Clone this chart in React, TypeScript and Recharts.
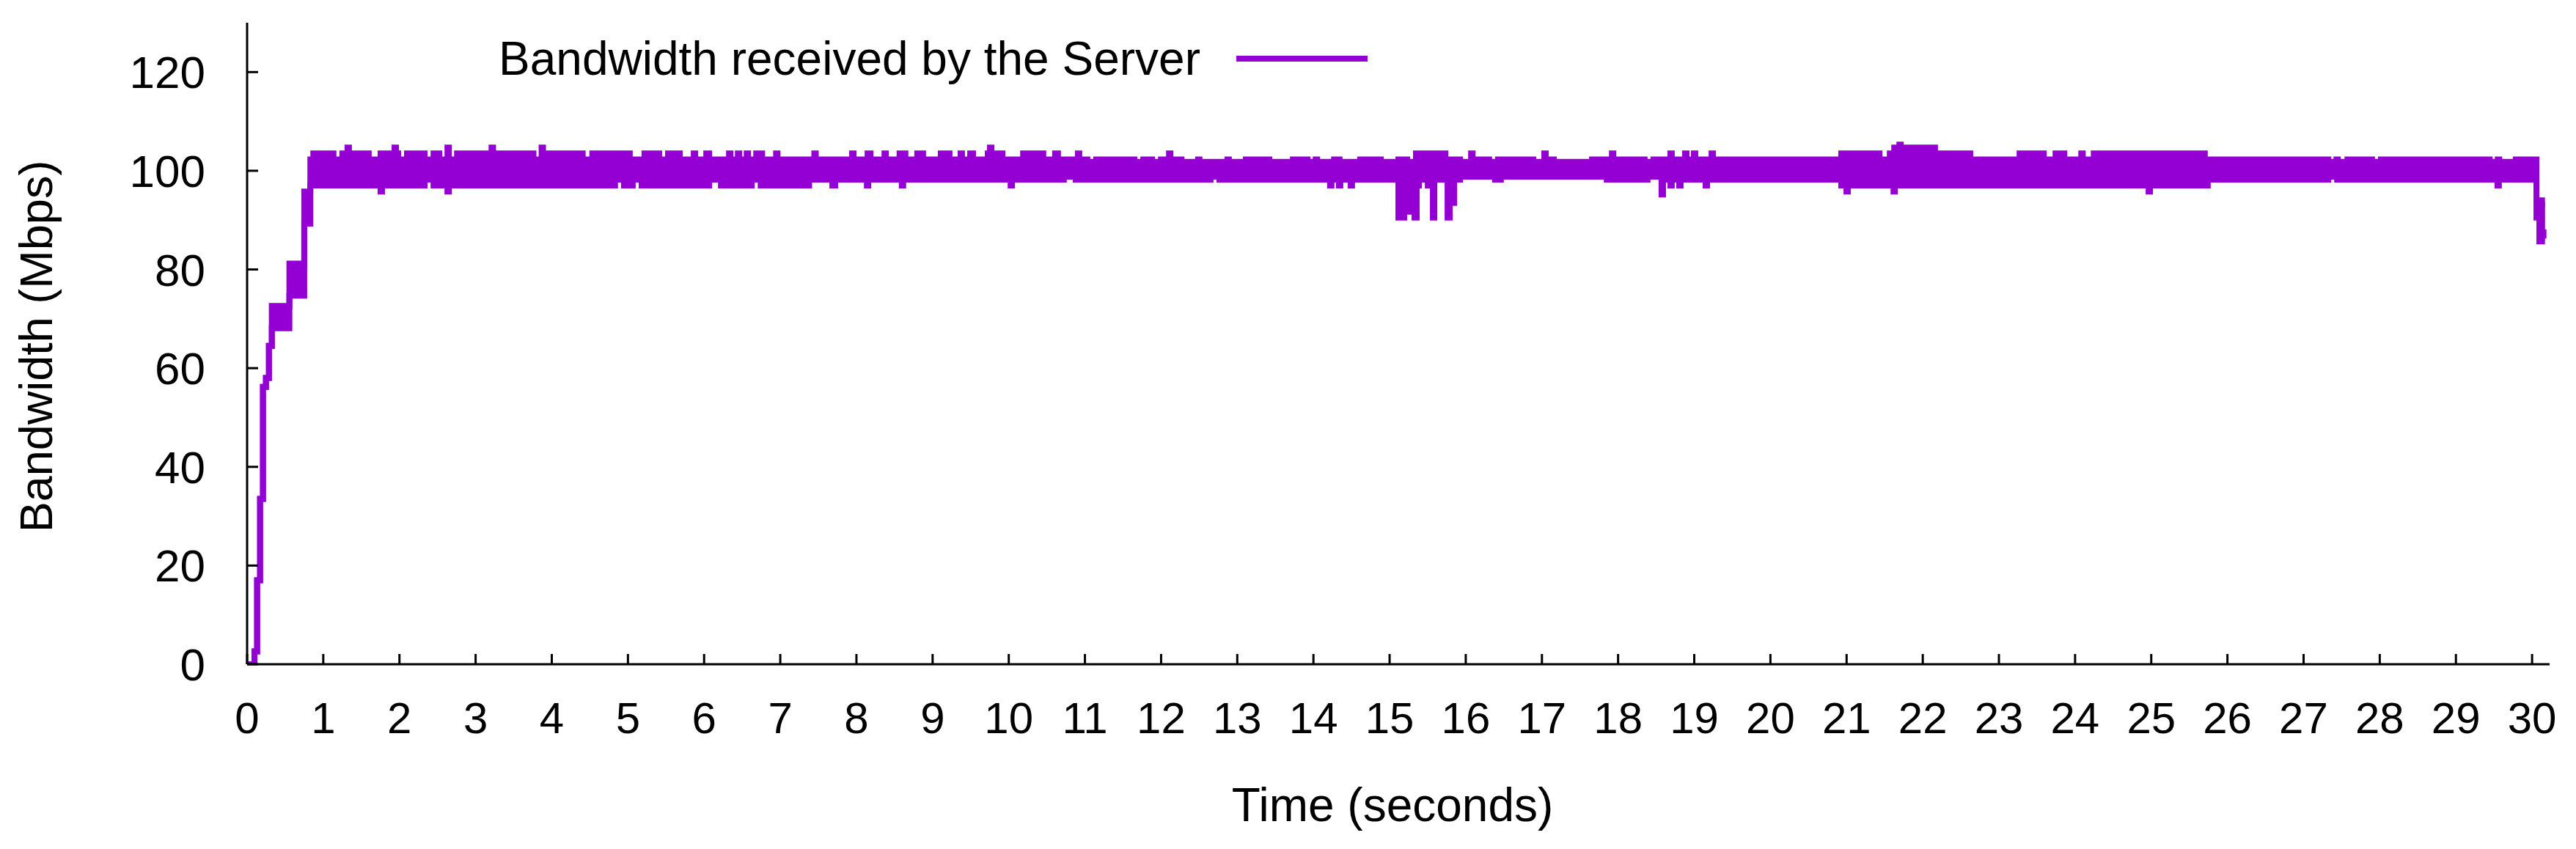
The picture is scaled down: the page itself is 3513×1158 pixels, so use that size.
import { AreaChart, Area, XAxis, YAxis, Legend } from "recharts";

const PURPLE = "#9400d3";
const FONT = "'Liberation Sans', Arial, sans-serif";

const xTicks = [
  0, 1, 2, 3, 4, 5, 6, 7, 8, 9, 10, 11, 12, 13, 14, 15, 16, 17, 18, 19, 20, 21, 22, 23, 24, 25, 26, 27, 28,
  29, 30,
];
const yTicks = [0, 20, 40, 60, 80, 100, 120];

// start-up ramp: [time, low, high]
const ramp: [number, number, number][] = [
  [0, 0, 0], [0.096, 2.6, 2.6], [0.131, 17, 17], [0.17, 33.5, 33.5], [0.208, 56.2, 56.2],
  [0.247, 58, 58], [0.286, 64.5, 64.5], [0.324, 68.1, 72.6], [0.555, 74.7, 81.2], [0.75, 89.3, 95.8],
];

// upper edge of the ~100 Mbps band: [time, Mbps], step changes
const upperEdge: [number, number][] = [
  [0.83, 102.3], [0.869, 103.5], [1.134, 102.3], [1.25, 103.5], [1.318, 104.7], [1.337, 103.5],
  [1.597, 102.3], [1.752, 103.5], [1.935, 104.7], [1.955, 103.5], [1.984, 102.3], [2.099, 103.5],
  [2.331, 102.3], [2.447, 103.5], [2.524, 102.3], [2.63, 104.7], [2.65, 102.3], [2.756, 103.5],
  [3.209, 104.7], [3.229, 103.5], [3.76, 102.3], [3.866, 104.7], [3.885, 103.5], [4.406, 102.3],
  [4.532, 103.5], [5.024, 102.3], [5.217, 103.5], [5.41, 102.3], [5.526, 103.5], [5.681, 102.3],
  [5.864, 103.5], [5.883, 102.3], [6.028, 103.5], [6.067, 102.3], [6.327, 103.5], [6.347, 102.3],
  [6.443, 103.5], [6.462, 102.3], [6.559, 103.5], [6.578, 102.3], [6.684, 103.5], [6.762, 102.3],
  [6.945, 103.5], [6.964, 102.3], [7.447, 103.5], [7.466, 102.3],
  [7.943, 103.5], [7.963, 102.3], [8.146, 103.5], [8.185, 102.3], [8.368, 103.5], [8.387, 102.3],
  [8.566, 103.5], [8.643, 102.3], [8.798, 103.5], [8.875, 102.3], [9.107, 103.5], [9.222, 102.3],
  [9.367, 103.5], [9.386, 102.3], [9.493, 103.5], [9.531, 102.3], [9.724, 103.5], [9.753, 104.7],
  [9.773, 103.5], [9.917, 102.3], [10.188, 103.5], [10.453, 102.3], [10.608, 103.5], [10.646, 102.3],
  [10.907, 103.5], [10.926, 102.3], [11.032, 101.8], [11.148, 102.3], [11.65, 101.8], [11.766, 102.3],
  [11.882, 101.8], [11.998, 102.3], [12.104, 103.5], [12.123, 102.3], [12.268, 101.8], [12.485, 102.3],
  [12.504, 101.8], [12.871, 102.3], [12.89, 101.8], [13.112, 102.3], [13.421, 101.8], [13.73, 102.3],
  [13.923, 101.8], [14.029, 102.3], [14.049, 101.8], [14.271, 102.3], [14.343, 101.8], [14.613, 102.3],
  [14.884, 101.8], [15.115, 102.3],
  [15.231, 101.8], [15.346, 103.5], [15.733, 102.3], [15.926, 101.8], [16.07, 103.5], [16.09, 102.3],
  [16.307, 101.8], [16.423, 102.3], [16.886, 101.8], [17.031, 103.5], [17.05, 102.3], [17.156, 101.8],
  [17.658, 102.3], [17.919, 103.5], [17.938, 102.3], [18.348, 101.8], [18.464, 102.3], [18.686, 103.5],
  [18.705, 102.3], [18.879, 103.5], [18.899, 102.3], [18.995, 103.5], [19.014, 102.3], [19.227, 103.5],
  [19.246, 102.3], [20.93, 103.5], [21.432, 102.3], [21.567, 103.5], [21.625, 104.7], [21.693, 105.3],
  [21.712, 104.7], [22.161, 103.5], [22.624, 102.3],
  [23.271, 103.5], [23.589, 102.3], [23.743, 103.5], [23.859, 102.3], [24.081, 103.5], [24.101, 102.3],
  [24.245, 103.5], [25.703, 102.3], [27.325, 101.8], [27.431, 102.3], [27.45, 101.8], [27.576, 102.3],
  [27.899, 101.8], [28.015, 102.3], [29.443, 101.8], [29.549, 102.3], [29.569, 101.8], [29.786, 102.3],
];

// lower edge of the band: [time, Mbps]
const lowerEdge: [number, number][] = [
  [0.83, 97.0], [1.752, 95.8], [1.771, 97.0], [2.331, 98.2], [2.447, 97.0], [2.63, 95.8], [2.65, 97.0],
  [4.831, 98.2], [4.947, 97.0], [5.063, 98.2], [5.179, 97.0], [6.067, 98.2], [6.221, 97.0], [6.626, 98.2],
  [6.742, 97.0], [6.781, 98.2], [6.858, 97.0], [7.109, 98.2], [7.186, 97.0], [7.283, 98.2], [7.341, 97.0],
  [7.379, 98.2], [7.683, 97.0], [7.721, 98.2], [8.137, 97.0], [8.156, 98.2], [8.595, 97.0], [8.614, 98.2],
  [10.024, 97.0], [10.043, 98.2], [10.723, 98.8], [10.878, 98.2], [12.649, 98.8], [12.765, 98.2],
  [14.218, 97.0], [14.237, 98.2], [14.333, 97.0], [14.353, 98.2], [14.488, 97.0], [14.507, 98.2],
  [15.115, 90.5], [15.192, 91.7], [15.327, 90.5], [15.356, 97.0], [15.385, 98.2], [15.501, 97.0],
  [15.568, 90.5], [15.588, 98.2], [15.761, 90.5], [15.79, 93.5], [15.848, 98.2], [15.926, 98.8],
  [16.384, 98.2], [16.461, 98.8], [17.851, 98.2], [18.387, 98.8], [18.57, 95.2], [18.59, 98.2],
  [18.686, 97.0], [18.705, 98.2], [18.802, 97.0], [18.821, 98.2], [19.149, 97.0], [19.169, 98.2],
  [20.93, 97.0], [20.998, 95.8], [21.017, 97.0], [21.616, 95.8], [21.635, 97.0], [24.965, 95.8],
  [24.984, 97.0], [25.742, 98.2], [27.325, 98.8], [27.44, 98.2], [29.545, 97.0], [29.564, 98.2],
];

// final drop at the end of the run: [time, low, high]
const tail: [number, number, number][] = [
  [30.057, 90.5, 94.0], [30.095, 85.7, 94.0], [30.13, 87.5, 93.4], [30.15, 86.3, 93.4], [30.17, 86.3, 93.4],
];

// merge the two step edges into one [low, high] row per breakpoint
function buildRows() {
  const upper: [number, number][] = [
    ...ramp.map(([t, , hi]) => [t, hi] as [number, number]),
    ...upperEdge,
    ...tail.map(([t, , hi]) => [t, hi] as [number, number]),
  ];
  const lower: [number, number][] = [
    ...ramp.map(([t, lo]) => [t, lo] as [number, number]),
    ...lowerEdge,
    ...tail.map(([t, lo]) => [t, lo] as [number, number]),
  ];
  const times = Array.from(new Set([...upper, ...lower].map((p) => p[0]))).sort((a, b) => a - b);
  let iu = 0;
  let il = 0;
  return times.map((t) => {
    while (iu + 1 < upper.length && upper[iu + 1][0] <= t) iu++;
    while (il + 1 < lower.length && lower[il + 1][0] <= t) il++;
    return { t, bw: [lower[il][1], upper[iu][1]] };
  });
}

const rows = buildRows();

const axisStroke = { stroke: "#000", strokeWidth: 3 };

function XLabel(props: any) {
  const vb = props.viewBox || {};
  const x = (vb.x ?? 337) + (vb.width ?? 3140) / 2 - 8;
  const y = (vb.y ?? 906) + 214;
  return (
    <text x={x} y={y} textAnchor="middle" fontSize={64} fontFamily={FONT} fill="#000">
      Time (seconds)
    </text>
  );
}

function YLabel(props: any) {
  const vb = props.viewBox || {};
  const x = (vb.x ?? 0) + 71;
  const y = (vb.y ?? 31) + (vb.height ?? 875) / 2 + 4;
  return (
    <text
      x={x}
      y={y}
      transform={`rotate(-90, ${x}, ${y})`}
      textAnchor="middle"
      fontSize={63}
      fontFamily={FONT}
      fill="#000"
    >
      Bandwidth (Mbps)
    </text>
  );
}

function LegendBox() {
  return (
    <div style={{ display: "flex", alignItems: "center", fontFamily: FONT, fontSize: 64, lineHeight: 1, color: "#000" }}>
      <span style={{ whiteSpace: "nowrap" }}>Bandwidth received by the Server</span>
      <span style={{ display: "inline-block", width: 179, height: 8, background: PURPLE, marginLeft: 49 }} />
    </div>
  );
}

export default function App() {
  return (
    <div style={{ position: "absolute", left: 0, top: 0, width: 3513, height: 1158, background: "#fff" }}>
      <AreaChart width={3513} height={1158} data={rows} margin={{ top: 31, right: 36, left: 0, bottom: 0 }}>
        <XAxis
          dataKey="t"
          type="number"
          domain={[0, 30.23]}
          allowDataOverflow
          ticks={xTicks}
          interval={0}
          height={252}
          axisLine={axisStroke}
          tickLine={axisStroke}
          tickSize={-14}
          tickMargin={65}
          tick={{ fill: "#000", fontSize: 60, fontFamily: FONT }}
          label={{ content: XLabel }}
        />
        <XAxis
          xAxisId="top"
          orientation="top"
          dataKey="t"
          type="number"
          domain={[0, 30.23]}
          allowDataOverflow
          ticks={xTicks}
          interval={0}
          height={0}
          axisLine={axisStroke}
          tickLine={axisStroke}
          tickSize={-14}
          tick={false}
        />
        <YAxis
          type="number"
          domain={[0, 130]}
          allowDataOverflow
          ticks={yTicks}
          interval={0}
          width={337}
          axisLine={axisStroke}
          tickLine={axisStroke}
          tickSize={-15}
          tickMargin={72}
          tick={{ fill: "#000", fontSize: 62, fontFamily: FONT }}
          label={{ content: YLabel }}
        />
        <YAxis
          yAxisId="right"
          orientation="right"
          type="number"
          domain={[0, 130]}
          allowDataOverflow
          ticks={yTicks}
          interval={0}
          width={0}
          axisLine={axisStroke}
          tickLine={axisStroke}
          tickSize={-15}
          tick={false}
        />
        <Legend
          layout="horizontal"
          verticalAlign="middle"
          align="center"
          wrapperStyle={{ top: 48, left: 680, width: "auto" }}
          content={() => <LegendBox />}
        />
        <Area
          dataKey="bw"
          type="stepAfter"
          stroke={PURPLE}
          strokeWidth={8}
          fill={PURPLE}
          fillOpacity={1}
          dot={false}
          activeDot={false}
          isAnimationActive={false}
        />
      </AreaChart>
    </div>
  );
}
